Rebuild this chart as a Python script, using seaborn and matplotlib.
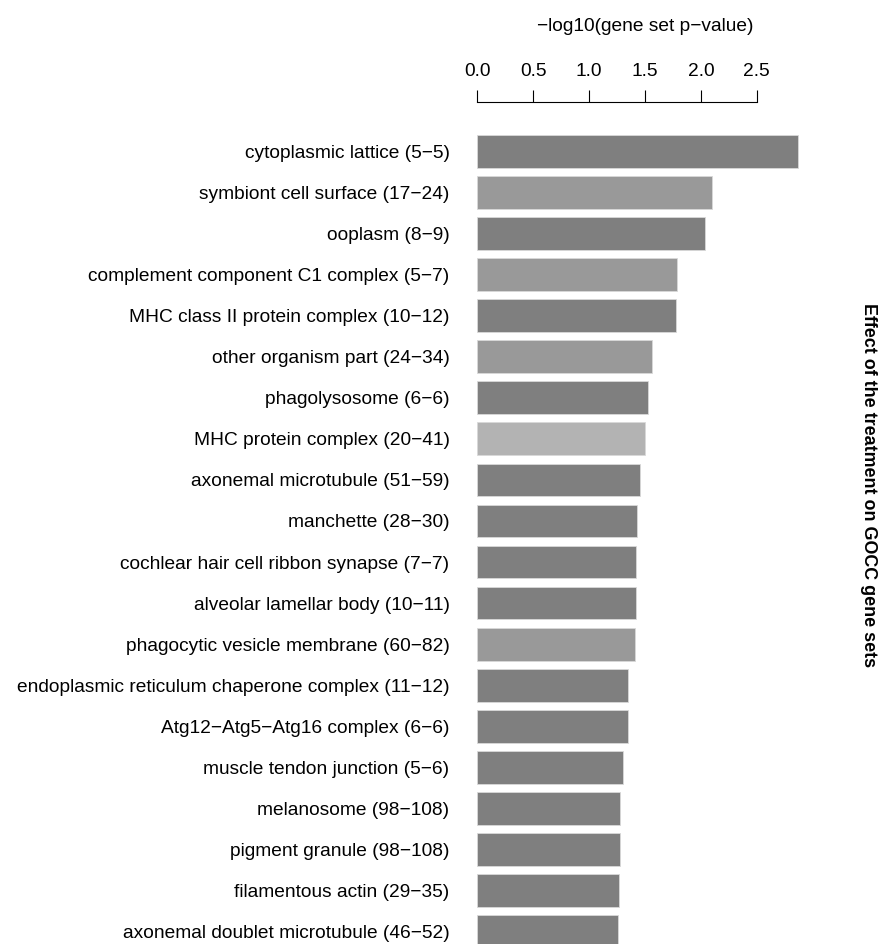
import pandas as pd
import seaborn as sns
import matplotlib
matplotlib.use('Agg')
import matplotlib.pyplot as plt

# gene sets (top to bottom)
gene_sets = [
    "cytoplasmic lattice (5\u22125)",
    "symbiont cell surface (17\u221224)",
    "ooplasm (8\u22129)",
    "complement component C1 complex (5\u22127)",
    "MHC class II protein complex (10\u221212)",
    "other organism part (24\u221234)",
    "phagolysosome (6\u22126)",
    "MHC protein complex (20\u221241)",
    "axonemal microtubule (51\u221259)",
    "manchette (28\u221230)",
    "cochlear hair cell ribbon synapse (7\u22127)",
    "alveolar lamellar body (10\u221211)",
    "phagocytic vesicle membrane (60\u221282)",
    "endoplasmic reticulum chaperone complex (11\u221212)",
    "Atg12\u2212Atg5\u2212Atg16 complex (6\u22126)",
    "muscle tendon junction (5\u22126)",
    "melanosome (98\u2212108)",
    "pigment granule (98\u2212108)",
    "filamentous actin (29\u221235)",
    "axonemal doublet microtubule (46\u221252)",
]
neg_log_p = [2.87, 2.10, 2.04, 1.79, 1.78, 1.56, 1.53, 1.50, 1.46, 1.43,
             1.42, 1.42, 1.41, 1.35, 1.35, 1.30, 1.28, 1.28, 1.27, 1.26]
shade = ["dark", "medium", "dark", "medium", "dark", "medium", "dark", "light",
         "dark", "dark", "dark", "dark", "medium", "dark", "dark", "dark",
         "dark", "dark", "dark", "dark"]
shade_colors = {"dark": "#7f7f7f", "medium": "#999999", "light": "#b3b3b3"}
x_ticks = [0.0, 0.5, 1.0, 1.5, 2.0, 2.5]

df = pd.DataFrame({"set": gene_sets, "value": neg_log_p, "shade": shade})

sns.set_theme(style="white")
plt.rcParams['font.family'] = ['Liberation Sans', 'DejaVu Sans']
plt.rcParams['text.color'] = 'black'
plt.rcParams['xtick.color'] = 'black'
plt.rcParams['ytick.color'] = 'black'
plt.rcParams['axes.labelcolor'] = 'black'

W, H = 882, 944
fig = plt.figure(figsize=(W / 100, H / 100), dpi=100)

# axes in pixel terms: x=0 at 477.3px, 1 unit = 111.76px; top spine at y=101.7px
x0_px, unit_px = 477.3, 111.76
xmax = 3.0
top_px = 101.7
ax = fig.add_axes([x0_px / W, 0, xmax * unit_px / W, 1 - top_px / H])

sns.barplot(data=df, x="value", y="set", hue="shade", palette=shade_colors,
            orient="h", width=0.796, legend=False, ax=ax,
            edgecolor="#d9d9d9", linewidth=0.6)

pitch = 41.07
row0 = 151.35
ax.set_xlim(0, xmax)
ax.set_ylim((H - row0) / pitch, -(row0 - top_px) / pitch)

for s in ["left", "right", "bottom"]:
    ax.spines[s].set_visible(False)
ax.spines["top"].set_visible(True)
ax.spines["top"].set_bounds(0, 2.5)
ax.spines["top"].set_color("black")
ax.spines["top"].set_linewidth(0.8)

fs = 13.8
ax.xaxis.tick_top()
ax.xaxis.set_label_position("top")
ax.set_xticks(x_ticks)
ax.set_xticklabels([f"{t:.1f}" for t in x_ticks], fontsize=fs)
ax.tick_params(axis="x", direction="out", length=8.5, width=0.8, color="black",
               pad=7, top=True, bottom=False, labeltop=True, labelbottom=False)
ax.tick_params(axis="y", length=0, pad=20, labelsize=fs)
ax.set_xlabel("\u2212log10(gene set p\u2212value)", fontsize=fs, labelpad=23)
ax.set_ylabel("")

fig.text(869 / W, 1 - 485 / H, "Effect of the treatment on GOCC gene sets",
         rotation=270, fontsize=12.9, fontweight="bold", ha="center", va="center")

fig.savefig("out.png", dpi=100)
